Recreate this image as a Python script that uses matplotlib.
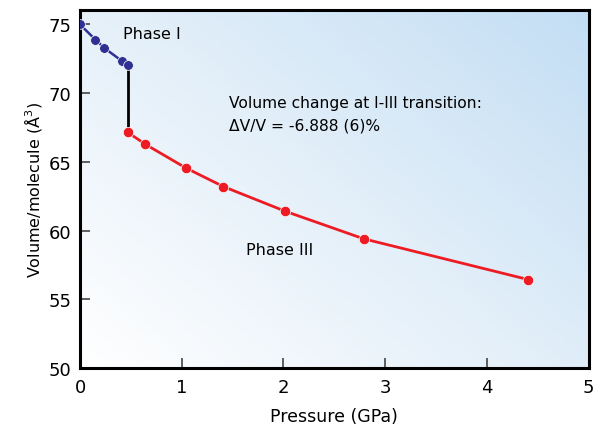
import numpy as np
import matplotlib
matplotlib.use("Agg")
import matplotlib.pyplot as plt
from matplotlib.colors import LinearSegmentedColormap

# Data
phase1_p = [0.0, 0.15, 0.24, 0.41, 0.47]
phase1_v = [75.0, 73.9, 73.28, 72.35, 72.06]
phase3_p = [0.47, 0.64, 1.04, 1.41, 2.02, 2.79, 4.41]
phase3_v = [67.15, 66.29, 64.56, 63.2, 61.4, 59.4, 56.43]
x_ticks = [0, 1, 2, 3, 4, 5]
y_ticks = [50, 55, 60, 65, 70, 75]

plt.rcParams['font.family'] = ['DejaVu Sans']

fig = plt.figure(figsize=(5.96, 4.27), dpi=100)
ax = fig.add_axes([80/596, 1 - 369/427, (588.5 - 80)/596, (369 - 11)/427])

# gradient background
n = 200
xx, yy = np.meshgrid(np.linspace(0, 1, n), np.linspace(0, 1, n))
g = (xx * 0.55 + yy * 0.45)
cmap = LinearSegmentedColormap.from_list("bg", ["#ffffff", "#e3eff9", "#c3def4"])
ax.imshow(g, extent=[0, 1, 0, 1], transform=ax.transAxes, origin="lower",
          cmap=cmap, aspect="auto", zorder=0)

ax.set_xlim(0, 5)
ax.set_ylim(50, 76.05)

# transition line
ax.plot([phase1_p[-1], phase3_p[0]], [phase1_v[-1], phase3_v[0]], color="black", lw=2, zorder=2)
ax.plot(phase1_p, phase1_v, color="#2e3192", lw=1.8, marker="o", ms=7,
        mec="white", mew=0.5, zorder=3)
ax.plot(phase3_p, phase3_v, color="#ed1c24", lw=2.0, marker="o", ms=7.5,
        mec="white", mew=0.5, zorder=3)

ax.set_xticks(x_ticks)
ax.set_yticks(y_ticks)
ax.tick_params(direction="in", length=7, width=1.2, color="#444444",
               labelsize=13, pad=7)
ax.tick_params(axis="y", pad=6)
for s in ax.spines.values():
    s.set_linewidth(2.2)
    s.set_color("black")

ax.set_xlabel("Pressure (GPa)", fontsize=12.5, labelpad=8)
ax.set_ylabel("Volume/molecule (Å$^3$)", fontsize=11.5, labelpad=3)

ax.text(0.42, 74.35, "Phase I", fontsize=11.5, va="center", ha="left")
ax.text(1.47, 69.35, "Volume change at I-III transition:",
        fontsize=11.2, va="center", ha="left")
ax.text(1.47, 67.65, "\u0394V/V = -6.888 (6)%",
        fontsize=11.2, va="center", ha="left")
ax.text(1.63, 58.6, "Phase III", fontsize=11.5, va="center", ha="left")

fig.savefig("out.png", dpi=100)
